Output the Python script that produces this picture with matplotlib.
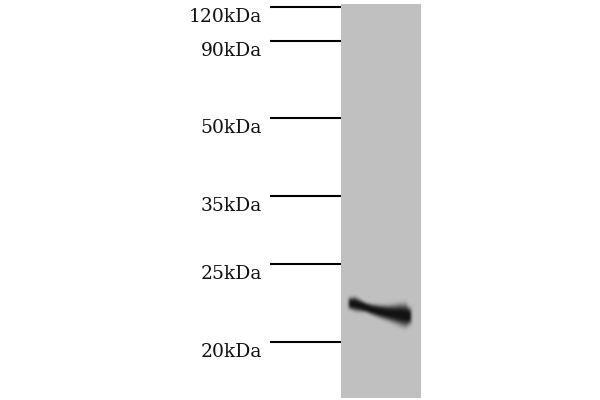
import numpy as np
import matplotlib
matplotlib.use("Agg")
import matplotlib.pyplot as plt

# Marker ladder (label, migration position in image pixels from top)
marker_labels = ["120kDa", "90kDa", "50kDa", "35kDa", "25kDa", "20kDa"]
marker_pos = [7, 41, 118, 196, 264, 342]

# Lane extent
lane_left, lane_right = 341, 421
lane_top, lane_bottom = 4, 398
lane_gray = 192

# Band profile along the lane (x, centre y, half-thickness)
band_x = [351, 355, 360, 366, 372, 380, 388, 395, 401, 406, 409]
band_c = [303.5, 304, 305.5, 307.5, 309.5, 311.5, 313, 314, 314.8, 315.5, 316]
band_h = [5.5, 6.5, 5.6, 4.6, 5.0, 6.0, 7.0, 8.5, 10.0, 10.5, 8.0]

fig = plt.figure(figsize=(6, 4), dpi=100)
ax = fig.add_axes([0, 0, 1, 1])
ax.set_xlim(0, 600)
ax.set_ylim(400, 0)
ax.axis("off")

xs = np.arange(lane_left, lane_right) + 0.5
ys = np.arange(lane_top, lane_bottom) + 0.5
X, Y = np.meshgrid(xs, ys)
c = np.interp(xs, band_x, band_c)[None, :]
h = np.interp(xs, band_x, band_h)[None, :]
edge = np.maximum(0, np.maximum(band_x[0] - X, X - band_x[-1]))
d = np.exp(-(np.abs(Y - c) / h) ** 3) * np.exp(-(edge / 2.5) ** 2)
img = lane_gray * (1 - d) + 18 * d
# light blur
k = np.ones(3) / 3
img = np.apply_along_axis(lambda r: np.convolve(r, k, mode="same"), 1, np.pad(img, 1, mode="edge"))
img = np.apply_along_axis(lambda r: np.convolve(r, k, mode="same"), 0, img)[1:-1, 1:-1]
ax.imshow(img, cmap="gray", vmin=0, vmax=255, extent=[lane_left, lane_right, lane_bottom, lane_top],
          interpolation="bilinear", aspect="auto")

ax.hlines(marker_pos, 270, lane_left, color="black", lw=1.5)
for lab, p in zip(marker_labels, marker_pos):
    ax.text(262, p + 10, lab, ha="right", va="center", fontsize=13.5,
            family="DejaVu Serif", color="#111111")

fig.savefig("out.png", dpi=100)
